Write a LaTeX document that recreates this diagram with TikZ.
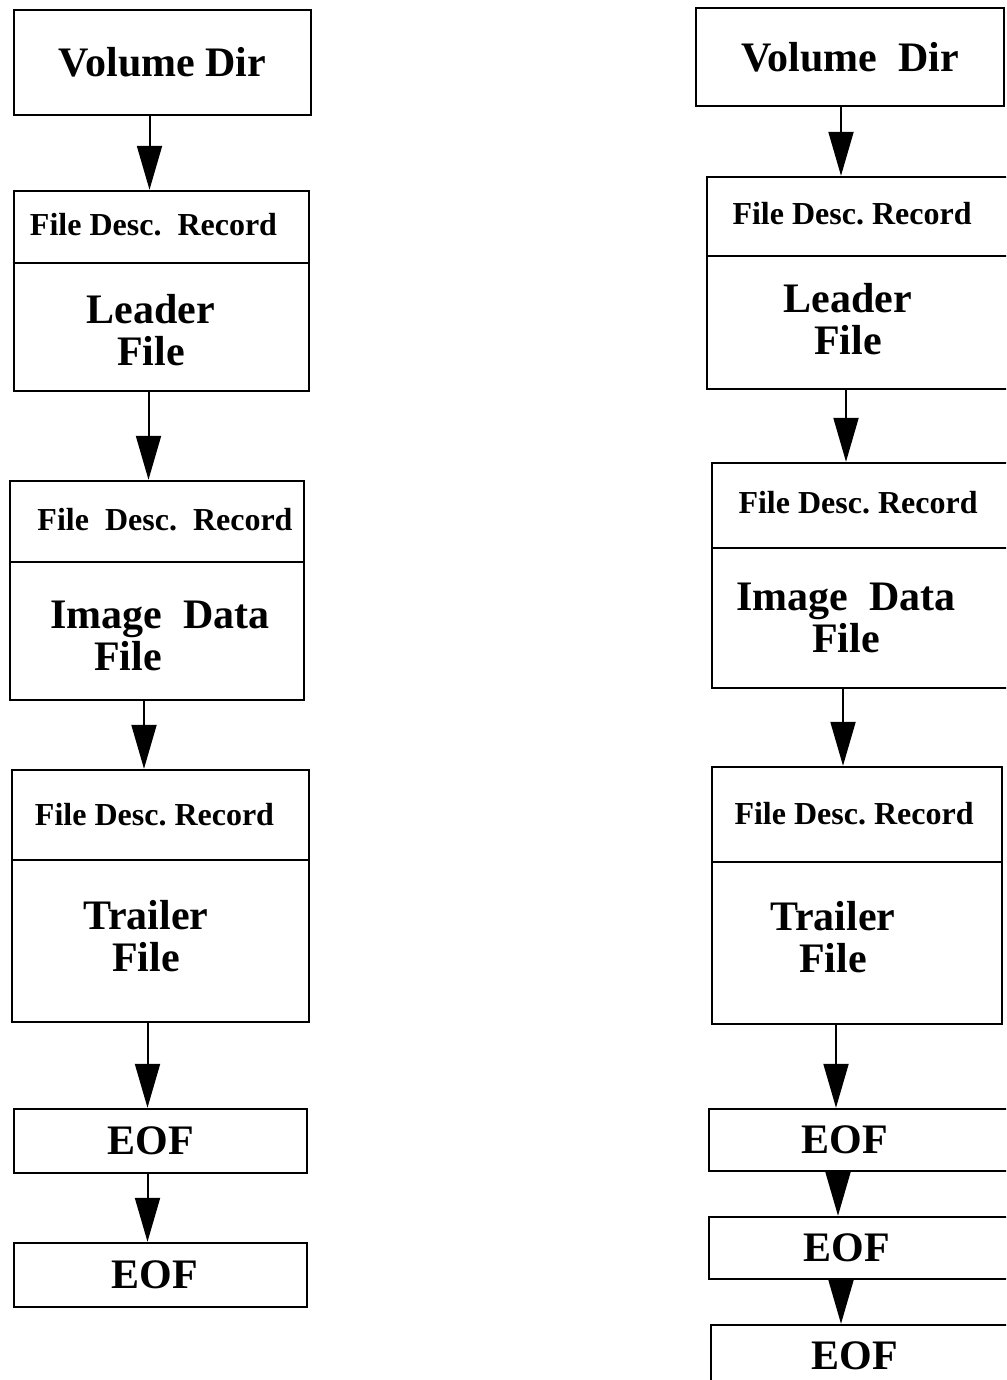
\documentclass[tikz,border=0pt]{standalone}
\usepackage{fontspec}
\setmainfont{Liberation Serif}
\usetikzlibrary{arrows.meta}

\begin{document}
\begin{tikzpicture}[x=0.5pt,y=-0.5pt,
    box/.style={draw,line width=1.2pt,inner sep=0pt,font=\bfseries\fontsize{21}{21}\selectfont},
    hdr/.style={inner sep=0pt,font=\bfseries\fontsize{16}{16}\selectfont},
    lbl/.style={inner sep=0pt,align=center,font=\bfseries\fontsize{21}{21}\selectfont},
    divider/.style={line width=1pt},
    flow/.style={-{Triangle[length=22pt,width=12.5pt]},line width=1pt}]

    \useasboundingbox (0,0) rectangle (1006,1380);
    \clip (0,0) rectangle (1006,1380);

    % Left column
    \node [box,minimum width=148.5pt,minimum height=52.5pt] at (162.5,62.5) (LVol) {Volume Dir};
    \node [box,minimum width=147.5pt,minimum height=100pt] at (161.5,291) (LLead) {};
    \node [box,minimum width=147pt,minimum height=109.5pt] at (157,590.5) (LImg) {};
    \node [box,minimum width=148.5pt,minimum height=126pt] at (160.5,896) (LTrail) {};
    \node [box,minimum width=146.5pt,minimum height=32pt] at (160.5,1141) (LEof1) {EOF\hspace*{10pt}};
    \node [box,minimum width=146.5pt,minimum height=32pt] at (160.5,1275) (LEof2) {EOF\hspace*{6pt}};

    \node [hdr] at (153.5,225) (LLeadHdr) {File Desc.\ \ Record};
    \node [lbl] at (151,330) (LLeadLbl) {Leader\\File};
    \node [hdr] at (165,520) (LImgHdr) {File\ \ Desc.\ \ Record};
    \node [lbl] at (160,636) (LImgLbl) {Image\ \ Data\\File\hspace*{32pt}};
    \node [hdr] at (154.5,815) (LTrailHdr) {File Desc.\ Record};
    \node [lbl] at (146,936) (LTrailLbl) {Trailer\\File};

    \draw [divider] (LLead.west |- 0,263) -- (LLead.east |- 0,263);
    \draw [divider] (LImg.west |- 0,562) -- (LImg.east |- 0,562);
    \draw [divider] (LTrail.west |- 0,860) -- (LTrail.east |- 0,860);

    % Right column
    \node [box,minimum width=154pt,minimum height=49pt] at (850,57) (RVol) {Volume\ \ Dir};
    \node [box,minimum width=151.5pt,minimum height=106pt] at (858.5,283) (RLead) {};
    \node [box,minimum width=149pt,minimum height=112.5pt] at (861,575.5) (RImg) {};
    \node [box,minimum width=145pt,minimum height=128.5pt] at (857,895.5) (RTrail) {};
    \node [box,minimum width=150.5pt,minimum height=31pt] at (859.5,1140) (REof1) {EOF\hspace*{15pt}};
    \node [box,minimum width=150.5pt,minimum height=31pt] at (859.5,1248) (REof2) {EOF\hspace*{13pt}};
    \node [box,minimum width=149.5pt,minimum height=31pt] at (860.5,1356) (REof3) {EOF\hspace*{6pt}};

    \node [hdr] at (852,214) (RLeadHdr) {File\ Desc.\ Record};
    \node [lbl] at (848,319) (RLeadLbl) {Leader\\File};
    \node [hdr] at (858,503) (RImgHdr) {File\ Desc.\ Record};
    \node [lbl] at (846,618) (RImgLbl) {Image\ \ Data\\File};
    \node [hdr] at (854,814) (RTrailHdr) {File\ Desc.\ Record};
    \node [lbl] at (833,937) (RTrailLbl) {Trailer\\File};

    \draw [divider] (RLead.west |- 0,256) -- (RLead.east |- 0,256);
    \draw [divider] (RImg.west |- 0,548) -- (RImg.east |- 0,548);
    \draw [divider] (RTrail.west |- 0,862) -- (RTrail.east |- 0,862);

    % Flow arrows
    \path [flow]
    ([xshift=-6.5pt]LVol.south) edge ([xshift=-6.5pt]LVol.south |- LLead.north)
    ([xshift=-6.5pt]LLead.south) edge ([xshift=-6.5pt]LLead.south |- LImg.north)
    ([xshift=-6.5pt]LImg.south) edge ([xshift=-6.5pt]LImg.south |- LTrail.north)
    ([xshift=-6.5pt]LTrail.south) edge ([xshift=-6.5pt]LTrail.south |- LEof1.north)
    ([xshift=-6.5pt]LEof1.south) edge ([xshift=-6.5pt]LEof1.south |- LEof2.north);

    \path [flow]
    ([xshift=-4.5pt]RVol.south) edge ([xshift=-4.5pt]RVol.south |- RLead.north)
    ([xshift=-6.25pt]RLead.south) edge ([xshift=-6.25pt]RLead.south |- RImg.north)
    ([xshift=-9pt]RImg.south) edge ([xshift=-9pt]RImg.south |- RTrail.north)
    ([xshift=-10.5pt]RTrail.south) edge ([xshift=-10.5pt]RTrail.south |- REof1.north)
    ([xshift=-10.75pt]REof1.south) edge ([xshift=-10.75pt]REof1.south |- REof2.north)
    ([xshift=-9.25pt]REof2.south) edge ([xshift=-9.25pt]REof2.south |- REof3.north);

\end{tikzpicture}
\end{document}
